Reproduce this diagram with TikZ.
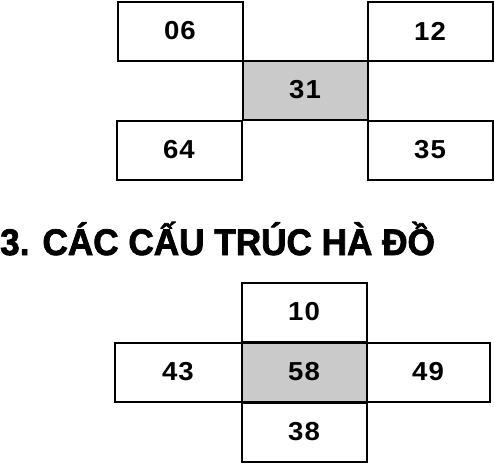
\documentclass[tikz,border=0pt]{standalone}
\usepackage{fontspec}
\setmainfont{Liberation Sans}
\usepackage{xcolor}
\definecolor{ink}{HTML}{000000}
\definecolor{shade}{HTML}{CACACA}
\tikzset{
  cell/.style={draw=ink, line width=2pt, minimum width=125pt, minimum height=59pt,
    inner sep=0pt, font=\fontsize{26}{26}\selectfont\bfseries\addfontfeatures{FakeStretch=1.06,LetterSpace=4}},
  hub/.style={cell, fill=shade},
  heading/.style={anchor=base west, inner sep=0pt,
    font=\fontsize{37}{37}\selectfont\bfseries\addfontfeatures{FakeBold=2,FakeStretch=0.95}},
}

\begin{document}
\begin{tikzpicture}[x=1pt,y=-1pt]
  \useasboundingbox (0,0) rectangle (494,464);

  % upper figure
  \node[cell] (c06) at (180,31) {06};
  \node[cell] (c12) at (430,31) {12};
  \node[hub]  (c31) at (305,90) {31};
  \node[cell] (c64) at (179,150) {64};
  \node[cell] (c35) at (430,150) {35};

  \node[heading] (title) at (0,255) {3. CÁC CẤU TRÚC HÀ ĐỒ};

  % lower figure
  \node[cell] (c10) at (304,312) {10};
  \node[cell, minimum width=127pt] (c43) at (178,372) {43};
  \node[hub]  (c58) at (304,372) {58};
  \node[cell, minimum width=123pt] (c49) at (428,372) {49};
  \node[cell] (c38) at (304,432) {38};
\end{tikzpicture}
\end{document}
